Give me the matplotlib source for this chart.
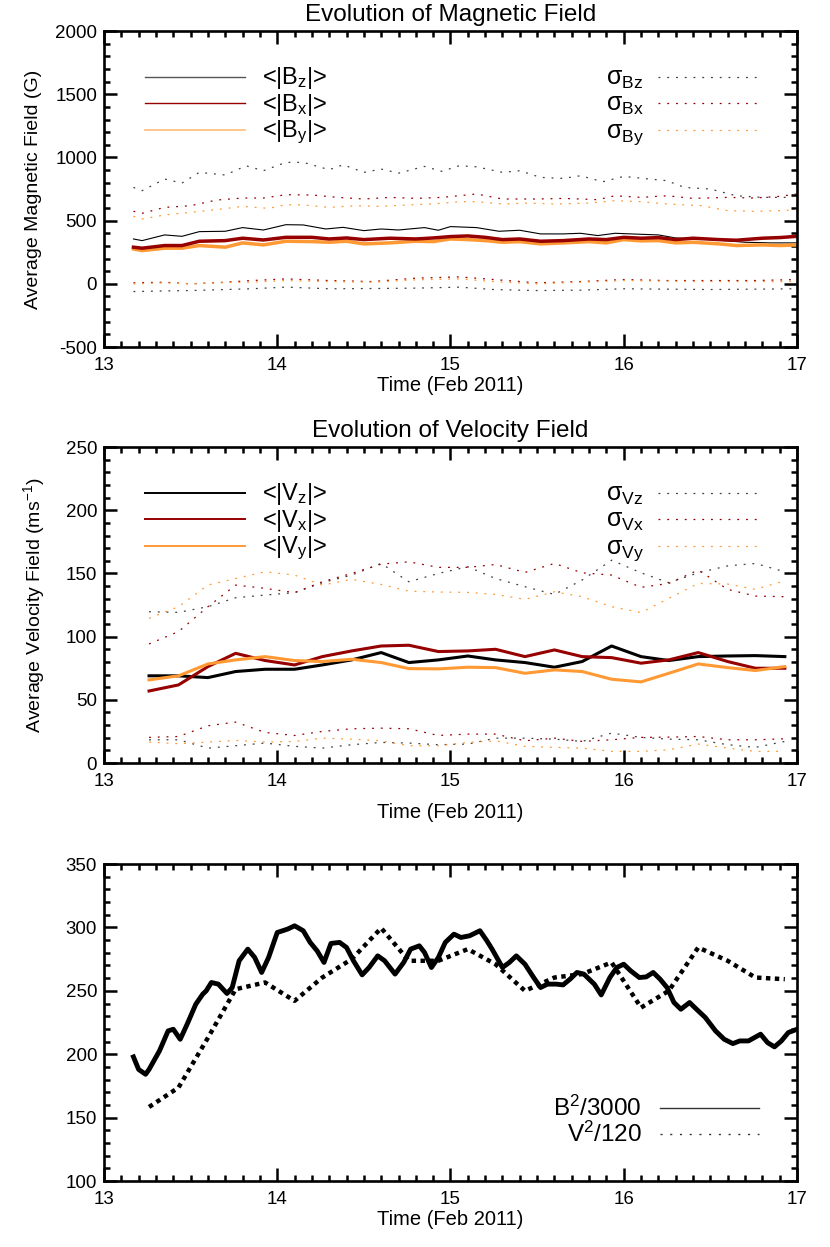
import matplotlib
matplotlib.use('Agg')
import matplotlib.pyplot as plt
from matplotlib.ticker import MultipleLocator

plt.rcParams['font.family'] = ['Liberation Sans', 'DejaVu Sans']
plt.rcParams['mathtext.fontset'] = 'custom'
plt.rcParams['mathtext.rm'] = 'Liberation Sans'
plt.rcParams['mathtext.it'] = 'Liberation Sans:italic'
plt.rcParams['mathtext.bf'] = 'Liberation Sans:bold'
plt.rcParams['mathtext.default'] = 'regular'
plt.rcParams['axes.unicode_minus'] = False

# ---- magnetic field (G) ----
t_bz = [13.17, 13.22, 13.35, 13.45, 13.55, 13.7, 13.8, 13.92, 14.05, 14.15, 14.28, 14.38, 14.5, 14.6, 14.7,
        14.85, 14.93, 15.0, 15.15, 15.28, 15.4, 15.52, 15.65, 15.75, 15.85, 15.95, 16.1, 16.2, 16.3, 16.5,
        16.7, 16.85, 17.0]
bz = [355, 342, 387, 376, 413, 416, 445, 426, 468, 466, 434, 447, 421, 434, 426, 445, 424, 453, 445, 416,
      424, 395, 395, 400, 382, 400, 392, 387, 363, 350, 329, 324, 324]

t_bxy = [13.17, 13.22, 13.35, 13.45, 13.55, 13.7, 13.8, 13.92, 14.05, 14.2, 14.3, 14.4, 14.5, 14.65, 14.8,
         14.9, 15.0, 15.1, 15.2, 15.3, 15.4, 15.52, 15.65, 15.8, 15.9, 16.0, 16.1, 16.2, 16.3, 16.4, 16.55,
         16.65, 16.8, 16.9, 17.0]
bx = [290, 282, 303, 303, 337, 342, 361, 347, 368, 368, 355, 363, 350, 361, 355, 363, 374, 379, 368, 350,
      355, 337, 342, 355, 350, 368, 361, 366, 350, 361, 350, 345, 361, 366, 376]
by = [276, 263, 282, 282, 303, 290, 324, 308, 337, 334, 329, 337, 316, 324, 337, 334, 355, 350, 342, 329,
      334, 316, 324, 334, 324, 350, 340, 342, 324, 329, 316, 303, 308, 303, 308]

t_sbz = [13.17, 13.22, 13.35, 13.45, 13.55, 13.7, 13.82, 13.92, 14.05, 14.15, 14.3, 14.38, 14.5, 14.6, 14.7,
         14.85, 14.95, 15.05, 15.15, 15.3, 15.4, 15.52, 15.65, 15.75, 15.88, 16.0, 16.15, 16.25, 16.35, 16.5,
         16.65, 16.8, 16.95, 17.0]
sbz_hi = [763, 737, 829, 797, 882, 861, 934, 895, 961, 961, 903, 942, 882, 908, 876, 929, 890, 934, 926, 882,
          895, 842, 834, 855, 808, 850, 829, 816, 763, 750, 697, 684, 684, 697]
t_sbx = [13.17, 13.22, 13.35, 13.5, 13.65, 13.8, 13.92, 14.05, 14.2, 14.35, 14.5, 14.65, 14.8, 14.95, 15.05,
         15.15, 15.3, 15.5, 15.65, 15.85, 15.95, 16.1, 16.25, 16.4, 16.6, 16.75, 16.9, 17.0]
sbx_hi = [574, 558, 605, 618, 663, 679, 679, 705, 703, 684, 671, 684, 676, 684, 697, 711, 671, 671, 676, 666,
          697, 684, 697, 676, 684, 679, 692, 711]
t_sby = [13.17, 13.22, 13.35, 13.5, 13.65, 13.8, 13.95, 14.05, 14.15, 14.3, 14.45, 14.6, 14.75, 14.9, 15.05,
         15.15, 15.3, 15.45, 15.6, 15.8, 15.95, 16.1, 16.25, 16.45, 16.6, 16.75, 16.9, 17.0]
sby_hi = [534, 513, 545, 566, 587, 613, 597, 626, 624, 605, 618, 613, 624, 632, 650, 650, 632, 639, 632, 639,
          658, 650, 632, 618, 579, 574, 579, 587]
t_low = [13.17, 13.35, 13.5, 13.7, 13.85, 14.05, 14.3, 14.55, 14.8, 15.05, 15.25, 15.5, 15.75, 16.0, 16.25,
         16.5, 16.75, 17.0]
sbx_lo = [8, 13, 0, 13, 26, 39, 26, 18, 45, 55, 34, 8, 18, 34, 26, 26, 26, 34]
sby_lo = [0, 8, 0, 10, 13, 26, 18, 13, 32, 39, 18, 0, 13, 26, 21, 18, 18, 18]
sbz_lo = [-61, -56, -53, -45, -39, -26, -39, -37, -34, -26, -45, -53, -50, -39, -42, -45, -42, -39]

# ---- velocity field (m/s), 4-hourly ----
t_v = [13.26, 13.43, 13.60, 13.76, 13.93, 14.10, 14.26, 14.43, 14.60, 14.76, 14.93, 15.10, 15.26, 15.43,
       15.60, 15.76, 15.93, 16.10, 16.26, 16.43, 16.60, 16.76, 16.93]
vz = [69, 69, 67.6, 72.4, 74.2, 74.2, 77.6, 81.6, 87.4, 79.5, 81.6, 84.7, 81.6, 79.5, 75.8, 80.3, 92.6, 84.2,
      81.1, 84.2, 84.7, 85, 84.2]
vx = [57, 61.8, 76.3, 86.8, 81.1, 77.6, 84.2, 88.7, 92.6, 93.2, 88.2, 88.7, 90, 84.2, 89.5, 84.2, 83.4, 79,
      81.6, 87.4, 80.3, 75, 75]
vy = [65.8, 69, 78.4, 81.6, 84.2, 81.1, 80.3, 82.1, 79.5, 74.7, 74.5, 75.8, 75.5, 71, 73.7, 72.4, 66.3, 64.2,
      71, 78.4, 75.5, 73.2, 76.3]
svz_hi = [119.7, 119.2, 123.7, 130.8, 132.9, 134.8, 142.7, 148.7, 157.9, 143.4, 150, 155.3, 146, 139.5, 133.4,
          144.8, 160.5, 150.5, 142.7, 150.5, 156, 157.9, 151.3]
svx_hi = [94.2, 104, 123.7, 140.8, 138.2, 134.8, 143.4, 150, 157.4, 159.2, 154.8, 154.8, 157.1, 150.8, 157.9,
          150.5, 148.7, 139, 142.1, 152.7, 137.4, 132.1, 131.6]
svy_hi = [114.5, 123.7, 140.8, 146, 151.3, 148.7, 140.8, 145.3, 141.3, 136, 135.3, 135, 133.4, 129.5, 135.5,
          131.6, 123.7, 119, 130.3, 142.1, 141.6, 137.4, 144.2]
svx_lo = [20.3, 21, 29.5, 32.4, 24.2, 21.8, 25, 27.1, 27.6, 27.1, 21.8, 22.9, 22.9, 17.6, 19.7, 17.1, 18.4,
          20.3, 20.5, 21, 18.4, 18.4, 19.2]
svz_lo = [18.4, 18.4, 11.8, 13.7, 15.8, 13.2, 11.8, 14.5, 16.3, 15.8, 14.5, 15, 19.7, 19.7, 18.9, 17.1, 23.7,
          20.3, 18.9, 18.4, 14.5, 12.4, 17.1]
svy_lo = [16.6, 15.3, 16.6, 17.9, 16.6, 17.1, 19.7, 18.9, 17.6, 13.7, 13.7, 16.3, 17.6, 13.2, 12.4, 11.8, 9.2,
          9.2, 10.5, 15, 11.8, 9.2, 9.2]

# ---- energy-like comparison ----
t_b2 = [13.17, 13.2, 13.24, 13.26, 13.32, 13.37, 13.4, 13.44, 13.48, 13.53, 13.57, 13.59, 13.62, 13.66, 13.71,
        13.74, 13.78, 13.83, 13.87, 13.91, 13.95, 14.0, 14.06, 14.1, 14.15, 14.19, 14.23, 14.27, 14.31, 14.36,
        14.4, 14.44, 14.49, 14.53, 14.58, 14.62, 14.68, 14.73, 14.77, 14.82, 14.85, 14.89, 14.93, 14.97, 15.02,
        15.06, 15.11, 15.17, 15.21, 15.24, 15.3, 15.34, 15.38, 15.43, 15.48, 15.52, 15.56, 15.61, 15.65, 15.69,
        15.73, 15.77, 15.83, 15.87, 15.92, 15.96, 16.0, 16.04, 16.09, 16.13, 16.17, 16.21, 16.25, 16.29, 16.33,
        16.38, 16.42, 16.47, 16.53, 16.58, 16.63, 16.67, 16.72, 16.79, 16.83, 16.87, 16.91, 16.95, 17.0]
b2 = [197.9, 188, 184.2, 188, 202.6, 218.4, 219.7, 211.8, 223.7, 239.5, 247.4, 250, 256.6, 255.3, 247.9,
      252.6, 273.7, 282.9, 276.3, 264.5, 276.3, 296, 298.7, 301.3, 297.4, 288.2, 281.6, 272.4, 287.4, 288.2,
      284.2, 273.7, 262.6, 268.4, 277.6, 273.7, 263.2, 272.4, 282.9, 285.5, 280.3, 268.4, 276.3, 288.2, 294.7,
      292.1, 293.4, 297.4, 289.5, 282.9, 268.4, 272.4, 277.6, 271, 260.5, 252.6, 255.3, 255.3, 254.7, 259.2,
      264.5, 263.2, 255.3, 246.8, 260.5, 268.4, 271, 265.8, 260.5, 261, 264.5, 259.2, 252.6, 240.8, 235.5,
      240.8, 235.5, 229.1, 218.4, 211.8, 208.4, 210.5, 210.5, 215.8, 209.2, 205.8, 210.5, 217.1, 219.7]
v2 = [158.4, 173.7, 213, 251.3, 256.6, 242.1, 260.5, 275, 299.5, 273.7, 273.7, 282.9, 271, 250, 260.5, 263.2,
      272.4, 236.8, 250, 284.2, 273.7, 260.5, 259.2]

DRED = '#960000'
ORNG = '#ff9933'
GREY = '#404040'
DOT = (0, (1.5, 5.5))

fig = plt.figure(figsize=(8.3, 12.47), dpi=100)
ax1 = fig.add_axes([0.1253, 0.7217, 0.8349, 0.2534])
ax2 = fig.add_axes([0.1253, 0.3881, 0.8349, 0.2534])
ax3 = fig.add_axes([0.1253, 0.0529, 0.8349, 0.2542])


def style(ax, ymin, ymax, ymaj, ymin_step):
    ax.set_xlim(13, 17)
    ax.set_ylim(ymin, ymax)
    ax.xaxis.set_major_locator(MultipleLocator(1))
    ax.xaxis.set_minor_locator(MultipleLocator(0.1))
    ax.yaxis.set_major_locator(MultipleLocator(ymaj))
    ax.yaxis.set_minor_locator(MultipleLocator(ymin_step))
    ax.tick_params(which='both', direction='in', top=True, right=True, width=1.8, labelsize=13.5)
    ax.tick_params(which='major', length=9.5)
    ax.tick_params(which='minor', length=4.3)
    ax.tick_params(axis='x', pad=7)
    ax.tick_params(axis='y', pad=5)
    for s in ax.spines.values():
        s.set_linewidth(1.9)


def legend_row(ax, y, label, color, lw, ls, right=False, size=17):
    if right:
        ax.text(0.7244, y - 0.024, label, transform=ax.transAxes, fontsize=size, ha='left', va='baseline')
        ax.plot([0.7994, 0.9437], [y, y], transform=ax.transAxes, color=color, lw=lw, ls=ls)
    else:
        ax.plot([0.0592, 0.2035], [y, y], transform=ax.transAxes, color=color, lw=lw, ls=ls)
        ax.text(0.228, y - 0.024, label, transform=ax.transAxes, fontsize=size, ha='left', va='baseline')


# panel 1
ax1.plot(t_sbz, sbz_hi, color=GREY, lw=0.9, ls=DOT)
ax1.plot(t_low, sbz_lo, color=GREY, lw=0.9, ls=DOT)
ax1.plot(t_sbx, sbx_hi, color=DRED, lw=0.9, ls=DOT)
ax1.plot(t_low, sbx_lo, color=DRED, lw=0.9, ls=DOT)
ax1.plot(t_sby, sby_hi, color=ORNG, lw=0.9, ls=DOT)
ax1.plot(t_low, sby_lo, color=ORNG, lw=0.9, ls=DOT)
ax1.plot(t_bz, bz, color='black', lw=0.8)
ax1.plot(t_bxy, by, color=ORNG, lw=2.5)
ax1.plot(t_bxy, bx, color=DRED, lw=2.5)
style(ax1, -500, 2000, 500, 100)
ax1.set_title('Evolution of Magnetic Field', fontsize=17.5, pad=7)
ax1.set_ylabel('Average Magnetic Field (G)', fontsize=14)
ax1.yaxis.set_label_coords(-0.0895, 0.5)
ax1.set_xlabel('Time (Feb 2011)', fontsize=14.5)
ax1.xaxis.set_label_coords(0.5, -0.092)
rows = [0.855, 0.771, 0.687]
legend_row(ax1, rows[0], '<|B$_z$|>', '#555555', 1.0, '-')
legend_row(ax1, rows[1], '<|B$_x$|>', DRED, 1.0, '-')
legend_row(ax1, rows[2], '<|B$_y$|>', '#ffbb77', 1.2, '-')
legend_row(ax1, rows[0], 'σ$_{Bz}$', GREY, 0.9, DOT, right=True, size=18)
legend_row(ax1, rows[1], 'σ$_{Bx}$', DRED, 0.9, DOT, right=True, size=18)
legend_row(ax1, rows[2], 'σ$_{By}$', ORNG, 0.9, DOT, right=True, size=18)

# panel 2
ax2.plot(t_v, svz_hi, color=GREY, lw=0.9, ls=DOT)
ax2.plot(t_v, svz_lo, color=GREY, lw=0.9, ls=DOT)
ax2.plot(t_v, svx_hi, color=DRED, lw=0.9, ls=DOT)
ax2.plot(t_v, svx_lo, color=DRED, lw=0.9, ls=DOT)
ax2.plot(t_v, svy_hi, color=ORNG, lw=0.9, ls=DOT)
ax2.plot(t_v, svy_lo, color=ORNG, lw=0.9, ls=DOT)
ax2.plot(t_v, vz, color='black', lw=2.2)
ax2.plot(t_v, vx, color=DRED, lw=2.2)
ax2.plot(t_v, vy, color=ORNG, lw=2.2)
style(ax2, 0, 250, 50, 10)
ax2.set_title('Evolution of Velocity Field', fontsize=17.5, pad=7)
ax2.set_ylabel('Average Velocity Field (ms$^{-1}$)', fontsize=14)
ax2.yaxis.set_label_coords(-0.082, 0.5)
ax2.set_xlabel('Time (Feb 2011)', fontsize=14.5)
ax2.xaxis.set_label_coords(0.5, -0.125)
legend_row(ax2, rows[0], '<|V$_z$|>', 'black', 1.4, '-')
legend_row(ax2, rows[1], '<|V$_x$|>', DRED, 1.4, '-')
legend_row(ax2, rows[2], '<|V$_y$|>', ORNG, 1.4, '-')
legend_row(ax2, rows[0], 'σ$_{Vz}$', GREY, 0.9, DOT, right=True, size=18)
legend_row(ax2, rows[1], 'σ$_{Vx}$', DRED, 0.9, DOT, right=True, size=18)
legend_row(ax2, rows[2], 'σ$_{Vy}$', ORNG, 0.9, DOT, right=True, size=18)

# panel 3
ax3.plot(t_b2, b2, color='black', lw=3.5)
ax3.plot(t_v, v2, color='black', lw=3.2, ls=(0, (1, 1)))
style(ax3, 100, 350, 50, 10)
ax3.set_xlabel('Time (Feb 2011)', fontsize=14.5)
ax3.xaxis.set_label_coords(0.5, -0.091)
for y, lab, ls in [(0.229, 'B$^2$/3000', '-'), (0.148, 'V$^2$/120', DOT)]:
    ax3.text(0.776, y - 0.024, lab, transform=ax3.transAxes, fontsize=17.5, ha='right', va='baseline')
    ax3.plot([0.802, 0.945], [y, y], transform=ax3.transAxes, color='#333333', lw=1, ls=ls)

fig.savefig('out.png', dpi=100)
